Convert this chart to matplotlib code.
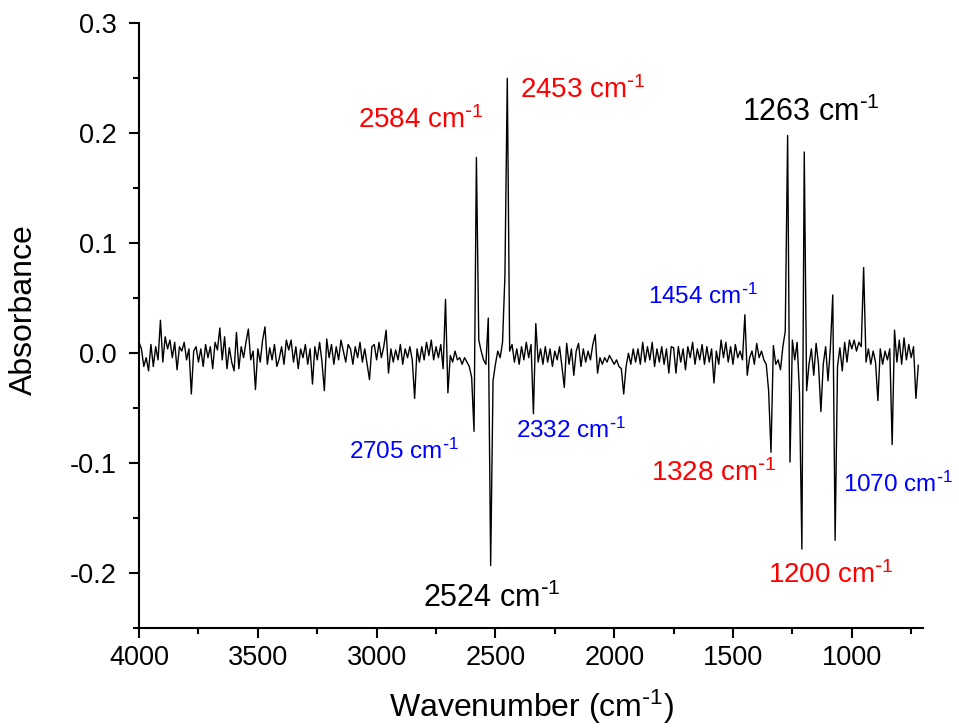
import numpy as np
import matplotlib
matplotlib.use("Agg")
import matplotlib.pyplot as plt
from matplotlib.ticker import MultipleLocator, FormatStrFormatter

plt.rcParams['font.family'] = ['Liberation Sans', 'DejaVu Sans']
plt.rcParams['mathtext.default'] = 'regular'

# spectrum, one value every 10 cm-1 from 4000 down to 720 cm-1
absorbance = [
    # 4000 - 3910
    0.010, 0.004, -0.012, -0.004, -0.016, 0.008, -0.012, 0.006, -0.006, 0.030,
    # 3900 - 3810
    -0.008, 0.015, 0.004, 0.012, -0.004, 0.010, -0.015, 0.006, 0.002, 0.010,
    # 3800 - 3710
    -0.006, 0.004, -0.037, 0.002, 0.006, -0.008, 0.004, -0.012, 0.008, -0.004,
    # 3700 - 3610
    0.006, -0.014, 0.010, 0.003, 0.023, -0.006, 0.015, -0.014, 0.005, -0.008,
    # 3600 - 3510
    -0.016, 0.019, -0.014, 0.006, -0.004, 0.010, 0.022, -0.006, 0.002, -0.033,
    # 3500 - 3410
    0.004, -0.008, 0.012, 0.024, -0.010, 0.005, -0.006, 0.008, -0.012, -0.005,
    # 3400 - 3310
    0.006, -0.010, 0.012, 0.003, 0.012, -0.008, 0.006, -0.014, 0.004, -0.004,
    # 3300 - 3210
    0.008, -0.010, 0.004, -0.028, 0.006, -0.006, 0.010, -0.008, -0.034, 0.013,
    # 3200 - 3110
    -0.004, 0.008, -0.010, 0.006, -0.006, 0.012, 0.002, -0.008, 0.008, 0.004,
    # 3100 - 3010
    -0.010, 0.006, -0.004, 0.010, -0.008, 0.004, -0.010, -0.024, 0.006, 0.008,
    # 3000 - 2910
    -0.006, 0.010, -0.004, 0.006, 0.021, -0.018, 0.004, -0.008, 0.003, -0.006,
    # 2900 - 2810
    0.008, -0.010, 0.004, -0.004, 0.006, -0.006, -0.041, 0.004, -0.008, 0.006,
    # 2800 - 2710
    -0.006, 0.010, -0.002, 0.012, -0.006, 0.006, -0.004, 0.008, -0.014, 0.049,
    # 2700 - 2610
    -0.036, -0.002, -0.008, 0.002, -0.006, -0.004, -0.010, -0.004, -0.008, -0.012,
    # 2600 - 2510
    -0.022, -0.071, 0.178, 0.012, 0.002, -0.006, -0.010, 0.032, -0.193, -0.025,
    # 2500 - 2410
    -0.010, 0.002, -0.004, 0.010, 0.070, 0.250, 0.002, 0.008, -0.008, 0.004,
    # 2400 - 2310
    -0.010, 0.006, -0.006, 0.010, -0.004, 0.008, -0.055, 0.027, -0.008, 0.004,
    # 2300 - 2210
    -0.010, 0.006, -0.008, 0.004, -0.012, 0.002, -0.006, 0.006, -0.012, -0.031,
    # 2200 - 2110
    0.009, -0.010, 0.004, -0.020, 0.002, 0.009, -0.012, 0.004, -0.008, 0.002,
    # 2100 - 2010
    -0.006, 0.008, 0.017, -0.018, -0.004, -0.010, -0.004, -0.008, -0.002, -0.006,
    # 2000 - 1910
    -0.010, -0.006, -0.012, -0.014, -0.037, -0.012, 0.000, -0.010, 0.004, -0.008,
    # 1900 - 1810
    0.004, -0.010, 0.010, -0.008, 0.006, -0.006, 0.010, -0.012, 0.004, -0.008,
    # 1800 - 1710
    0.006, -0.010, 0.004, -0.018, 0.006, 0.005, -0.018, 0.006, -0.008, 0.004,
    # 1700 - 1610
    -0.015, 0.006, -0.004, 0.010, -0.010, 0.004, -0.006, 0.008, -0.010, 0.006,
    # 1600 - 1510
    -0.008, 0.004, -0.027, 0.002, -0.010, 0.012, -0.004, 0.010, -0.008, 0.006,
    # 1500 - 1410
    -0.010, 0.008, -0.004, 0.002, -0.006, 0.035, -0.020, -0.004, 0.002, -0.010,
    # 1400 - 1310
    0.009, -0.004, 0.002, -0.006, -0.010, -0.034, -0.090, 0.007, -0.010, -0.006,
    # 1300 - 1210
    -0.015, 0.006, 0.020, 0.198, -0.099, 0.012, -0.006, 0.010, -0.036, -0.178,
    # 1200 - 1110
    0.183, -0.034, -0.010, 0.004, -0.020, 0.009, -0.010, -0.053, -0.010, 0.006,
    # 1100 - 1010
    -0.025, 0.005, 0.053, -0.170, -0.012, 0.005, -0.016, 0.010, -0.008, 0.012,
    # 1000 - 910
    0.004, 0.012, 0.002, 0.010, 0.006, 0.078, -0.008, 0.004, -0.010, 0.002,
    # 900 - 810
    -0.008, -0.043, 0.004, -0.010, 0.002, -0.006, 0.004, -0.083, 0.021, -0.008,
    # 800 - 720
    0.012, -0.010, 0.014, -0.006, 0.008, -0.004, 0.006, -0.041, -0.011,
]
wavenumber = np.arange(4000, 719, -10)

# peak labels: text, colour, size, position (wavenumber, absorbance)
label_text = ['2584', '2453', '1263', '1454', '2705', '2332', '1328', '1070', '1200', '2524']
label_color = ['red', 'red', 'black', 'blue', 'blue', 'blue', 'red', 'blue', 'red', 'black']
label_size = [20, 20, 22, 17.5, 17.5, 17.5, 20, 17.5, 20, 22]
label_x = [2814, 2133, 1174, 1626, 2886, 2181, 1582, 806, 1088, 2516]
label_y = [0.212, 0.239, 0.219, 0.052, -0.089, -0.070, -0.109, -0.119, -0.202, -0.223]

SUP = r' cm$^{\text{-}1}$'

fig = plt.figure(figsize=(9.59, 7.28), dpi=100)
ax = fig.add_axes([0.145, 0.137, 0.8175, 0.831])

ax.plot(wavenumber, absorbance, color='black', linewidth=1.0)

for t, c, s, x, y in zip(label_text, label_color, label_size, label_x, label_y):
    ax.text(x, y, t + SUP, color=c, fontsize=s, ha='center', va='center')

ax.set_xlim(4000, 700)
ax.set_ylim(-0.25, 0.3)
ax.xaxis.set_major_locator(MultipleLocator(500))
ax.xaxis.set_minor_locator(MultipleLocator(250))
ax.yaxis.set_major_locator(MultipleLocator(0.1))
ax.yaxis.set_minor_locator(MultipleLocator(0.05))
ax.yaxis.set_major_formatter(FormatStrFormatter('%.1f'))

ax.spines['top'].set_visible(False)
ax.spines['right'].set_visible(False)
ax.spines['left'].set_linewidth(1.5)
ax.spines['bottom'].set_linewidth(1.5)
ax.tick_params(which='major', direction='out', length=7, width=1.5, labelsize=19.5)
ax.tick_params(axis='y', which='major', pad=9)
ax.tick_params(axis='x', which='major', pad=5)
ax.tick_params(which='minor', direction='out', length=4, width=1.5)

ax.set_xlabel('Wavenumber (cm$^{\\text{-}1}$)', fontsize=23)
ax.set_ylabel('Absorbance', fontsize=23)
ax.xaxis.set_label_coords(0.5, -0.098)
ax.yaxis.set_label_coords(-0.128, 0.526)

fig.savefig('out.png', dpi=100)
